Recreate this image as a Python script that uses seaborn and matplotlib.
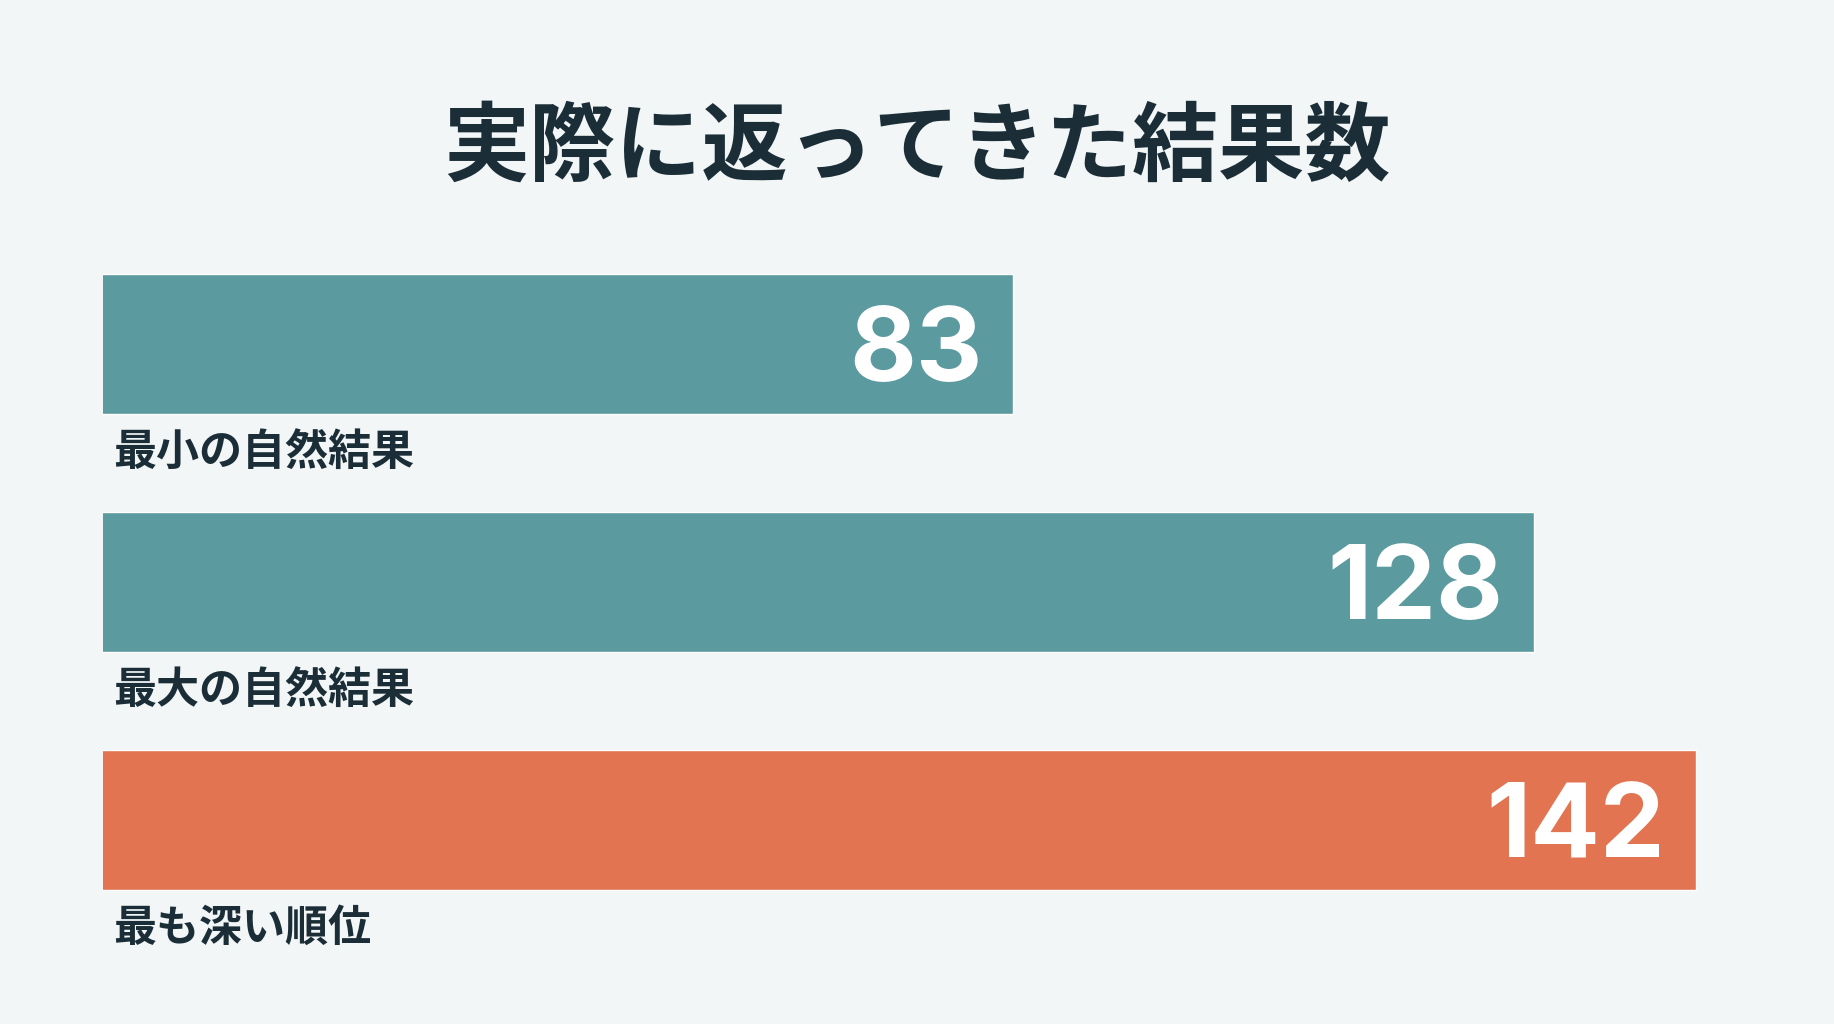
import numpy as np
import pandas as pd
import matplotlib
matplotlib.use("Agg")
import matplotlib.pyplot as plt
import seaborn as sns

# データ
categories = ["最小の自然結果", "最大の自然結果", "最も深い順位"]
values = [83, 128, 142]
bar_colors = ["#5B9A9F", "#5B9A9F", "#E27452"]
title = "実際に返ってきた結果数"

BG = "#F2F6F7"
DARK = "#1B2E37"
W, H = 1834, 1024

sns.set_theme(style="white")
plt.rcParams['font.family'] = ['Noto Sans CJK JP', 'DejaVu Sans']

df = pd.DataFrame({"label": categories, "value": values})

fig = plt.figure(figsize=(W / 100, H / 100), dpi=100, facecolor=BG)
# 棒の左端 = 軸の左端 (103px)
x0 = 103
ax = fig.add_axes([x0 / W, 0, (W - x0) / W, 1])
ax.set_facecolor(BG)

sns.barplot(data=df, x="value", y="label", hue="label", palette=bar_colors,
            orient="h", width=0.59, legend=False, saturation=1, ax=ax)

# 横軸は 4.4 から始まる (1単位 ≈ 11.58px)
px_per_unit = 11.58
x_start = 4.4
ax.set_xlim(x_start, x_start + (W - x0) / px_per_unit)
row_px = 238
y0 = 344
ax.set_ylim((H - y0) / row_px, -y0 / row_px)
ax.set_axis_off()

for i, (lab, v) in enumerate(zip(categories, values)):
    ax.text(v - 31 / px_per_unit, i, str(v), ha="right", va="center_baseline",
            color="white", fontsize=74, fontweight="bold",
            family=['Inter', 'DejaVu Sans'])
    ax.text(x_start + 10 / px_per_unit, i + 0.455, lab, ha="left", va="center",
            color=DARK, fontsize=31, fontweight="bold")

fig.text(0.5, 1 - 148 / H, title, ha="center", va="center",
         color=DARK, fontsize=62, fontweight="bold")

fig.savefig("out.png", dpi=100, facecolor=BG)
